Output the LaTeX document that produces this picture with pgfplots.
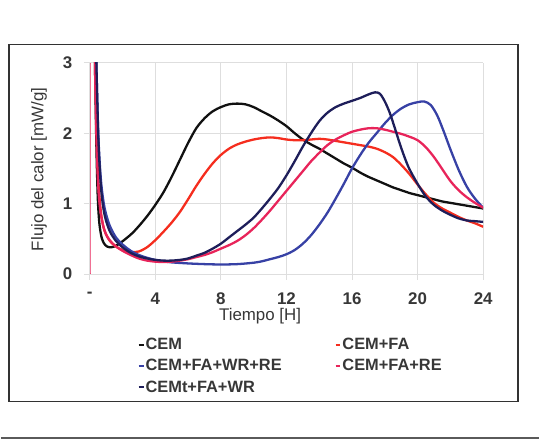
\documentclass[border=0pt]{standalone}
\usepackage{pgfplots}
\pgfplotsset{compat=1.18}
\usepackage{fontspec}
\setmainfont{Liberation Sans}
\definecolor{cblack}{RGB}{17,17,17}
\definecolor{cred}{RGB}{245,45,30}
\definecolor{cblue}{RGB}{55,65,165}
\definecolor{cpink}{RGB}{232,36,90}
\definecolor{cnavy}{RGB}{30,30,90}
\definecolor{textgray}{RGB}{55,55,55}
\definecolor{gridgray}{RGB}{222,222,222}
\begin{document}
\begin{tikzpicture}
\path (0bp,0bp) rectangle (540bp,444bp);
\draw[line width=1.3bp, color={rgb,255:red,50;green,50;blue,50}] (8bp,41bp) rectangle (519bp,399bp);
\draw[line width=2bp, color={rgb,255:red,90;green,90;blue,90}] (0bp,4bp) -- (540bp,4bp);
\begin{axis}[
  at={(89bp,169bp)}, anchor=south west,
  scale only axis, width=395bp, height=212bp,
  xmin=0, xmax=24, ymin=0, ymax=3,
  xtick={0,4,8,12,16,20,24}, xticklabels={-,4,8,12,16,20,24},
  ytick={0,1,2,3},
  grid=major, grid style={color=gridgray, line width=0.9bp},
  axis line style={draw=none},
  xtick pos=left, ytick pos=left,
  tick align=outside, major tick length=6bp,
  tick style={color=gridgray, line width=0.9bp},
  /pgf/number format/assume math mode=true,
  ticklabel style={font=\bfseries\fontsize{17}{20}\selectfont, text=textgray},
  xticklabel style={yshift=-9bp},
  yticklabel style={xshift=-8bp},
  xlabel={Tiempo [H]}, ylabel={Flujo del calor [mW/g]},
  label style={font=\fontsize{17}{20}\selectfont, text=textgray},
  xlabel style={at={(axis description cs:0.433,-0.2)}, anchor=center},
  ylabel style={at={(axis description cs:-0.129,0.495)}, anchor=center},
  legend columns=2,
  legend cell align=left,
  legend image code/.code={\draw[#1, line width=2bp] (0bp,0bp) -- (5bp,0bp);},
  legend style={at={(axis description cs:0.1215,-0.298)}, anchor=north west,
    draw=none, fill=none, inner sep=0pt,
    font=\bfseries\fontsize{16.5}{19}\selectfont, text=textgray,
    /tikz/every even column/.append style={column sep=52bp},
    row sep=6.5bp, nodes={inner sep=1bp, anchor=west}},
  every axis plot/.append style={line width=2.3bp, smooth},
]
\addplot[cpink, line width=0.8bp, forget plot, smooth=false] coordinates {(0.02,0)(0.02,3)};
\addplot[cblack] coordinates {(0.28,3.6)(0.35,2.6)(0.42,1.7)(0.5,1.05)(0.6,0.7)(0.75,0.5)(0.95,0.41)(1.2,0.38)(1.5,0.39)(1.8,0.43)(2.2,0.5)(2.6,0.58)(3.0,0.68)(3.5,0.82)(4,0.98)(4.5,1.16)(5,1.38)(5.5,1.62)(6,1.86)(6.5,2.07)(7,2.21)(7.5,2.31)(8,2.37)(8.5,2.41)(9,2.42)(9.5,2.41)(10,2.37)(10.5,2.31)(11,2.25)(11.5,2.18)(12,2.1)(12.5,2.0)(13,1.91)(13.5,1.84)(14,1.78)(14.5,1.71)(15,1.64)(15.5,1.57)(16,1.51)(16.5,1.44)(17,1.38)(17.5,1.33)(18,1.28)(18.5,1.23)(19,1.19)(19.5,1.15)(20,1.12)(20.5,1.09)(21,1.06)(21.5,1.03)(22,1.01)(22.5,0.99)(23,0.97)(23.5,0.95)(24,0.93)};
\addlegendentry{CEM}
\addplot[cred] coordinates {(0.3,3.6)(0.38,2.6)(0.46,1.8)(0.55,1.25)(0.7,0.85)(0.9,0.62)(1.2,0.48)(1.6,0.39)(2.0,0.34)(2.5,0.31)(3.0,0.32)(3.5,0.38)(4,0.48)(4.5,0.6)(5,0.73)(5.5,0.88)(6,1.06)(6.5,1.25)(7,1.42)(7.5,1.57)(8,1.69)(8.5,1.78)(9,1.84)(9.5,1.88)(10,1.91)(10.5,1.93)(11,1.94)(11.5,1.93)(12,1.91)(12.5,1.9)(13,1.9)(13.5,1.91)(14,1.92)(14.5,1.91)(15,1.89)(15.5,1.87)(16,1.85)(16.5,1.83)(17,1.81)(17.5,1.78)(18,1.73)(18.5,1.66)(19,1.55)(19.5,1.42)(20,1.27)(20.5,1.13)(21,1.01)(21.5,0.93)(22,0.87)(22.5,0.81)(23,0.76)(23.5,0.72)(24,0.67)};
\addlegendentry{CEM+FA}
\addplot[cblue] coordinates {(0.35,3.6)(0.45,2.6)(0.55,1.85)(0.7,1.3)(0.9,0.95)(1.2,0.7)(1.6,0.52)(2.0,0.42)(2.5,0.33)(3,0.27)(3.5,0.23)(4,0.2)(4.5,0.18)(5,0.165)(6,0.15)(7,0.14)(8,0.135)(9,0.14)(10,0.16)(10.5,0.18)(11,0.21)(11.5,0.24)(12,0.28)(12.5,0.34)(13,0.43)(13.5,0.55)(14,0.7)(14.5,0.87)(15,1.07)(15.5,1.28)(16,1.5)(16.5,1.69)(17,1.86)(17.5,2.0)(18,2.14)(18.5,2.26)(19,2.35)(19.5,2.41)(20,2.44)(20.4,2.45)(20.8,2.4)(21.2,2.25)(21.6,2.02)(22,1.77)(22.5,1.48)(23,1.24)(23.5,1.07)(24,0.94)};
\addlegendentry{CEM+FA+WR+RE}
\addplot[cpink] coordinates {(0.28,3.6)(0.35,2.6)(0.43,1.8)(0.52,1.25)(0.65,0.9)(0.85,0.66)(1.1,0.52)(1.5,0.41)(2,0.33)(2.5,0.27)(3,0.22)(3.5,0.19)(4,0.175)(4.5,0.17)(5,0.175)(5.5,0.19)(6,0.21)(6.5,0.24)(7,0.27)(7.5,0.31)(8,0.36)(8.5,0.41)(9,0.47)(9.5,0.55)(10,0.65)(10.5,0.77)(11,0.9)(11.5,1.04)(12,1.18)(12.5,1.32)(13,1.46)(13.5,1.6)(14,1.72)(14.5,1.83)(15,1.91)(15.5,1.97)(16,2.02)(16.5,2.05)(17,2.07)(17.5,2.07)(18,2.05)(18.5,2.02)(19,1.99)(19.5,1.95)(20,1.9)(20.5,1.8)(21,1.66)(21.5,1.49)(22,1.32)(22.5,1.19)(23,1.09)(23.5,1.01)(24,0.94)};
\addlegendentry{CEM+FA+RE}
\addplot[cnavy] coordinates {(0.35,3.6)(0.45,2.6)(0.55,1.8)(0.7,1.2)(0.9,0.85)(1.2,0.62)(1.6,0.47)(2,0.38)(2.5,0.3)(3,0.25)(3.5,0.22)(4,0.2)(4.5,0.19)(5,0.19)(5.5,0.2)(6,0.22)(6.5,0.26)(7,0.3)(7.5,0.36)(8,0.43)(8.5,0.52)(9,0.61)(9.5,0.7)(10,0.8)(10.5,0.93)(11,1.07)(11.5,1.22)(12,1.4)(12.5,1.6)(13,1.81)(13.5,2.0)(14,2.17)(14.5,2.29)(15,2.37)(15.5,2.42)(16,2.46)(16.5,2.5)(17,2.55)(17.4,2.58)(17.7,2.56)(18,2.45)(18.3,2.29)(18.6,2.08)(18.9,1.86)(19.2,1.66)(19.5,1.49)(20,1.28)(20.5,1.1)(21,0.98)(21.5,0.9)(22,0.84)(22.5,0.79)(23,0.76)(23.5,0.75)(24,0.74)};
\addlegendentry{CEMt+FA+WR}
\end{axis}
\end{tikzpicture}
\end{document}
